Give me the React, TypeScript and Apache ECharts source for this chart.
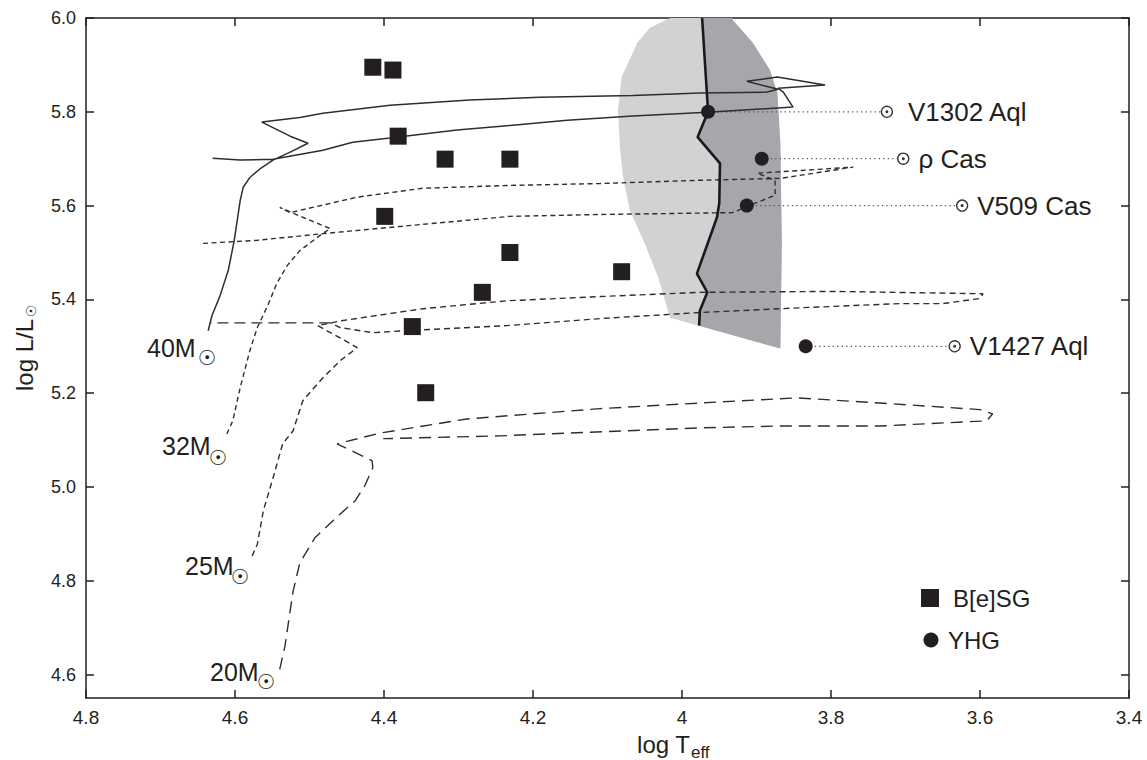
import React, { useEffect, useRef } from 'react';
import * as echarts from 'echarts';

// ---------- axes ----------
const X_MIN = 3.4;
const X_MAX = 4.8;
const X_INTERVAL = 0.2;
const Y_MIN = 4.55;
const Y_MAX = 6.0;
const Y_TICKS = [4.6, 4.8, 5.0, 5.2, 5.4, 5.6, 5.8, 6.0];

// ---------- stars ----------
const besgTeff = [4.415, 4.388, 4.381, 4.318, 4.231, 4.399, 4.231, 4.081, 4.268, 4.362, 4.344];
const besgLum = [5.895, 5.889, 5.748, 5.699, 5.699, 5.577, 5.5, 5.459, 5.415, 5.342, 5.201];

const yhgTeff = [3.965, 3.893, 3.913, 3.834];
const yhgLum = [5.8, 5.7, 5.6, 5.3];
const starNames = ['V1302 Aql', 'ρ Cas', 'V509 Cas', 'V1427 Aql'];
const starLabelTeff = [3.725, 3.703, 3.624, 3.634];

// ---------- evolutionary tracks ----------
const track40Teff = [4.636, 4.631, 4.62, 4.609, 4.601, 4.596, 4.593, 4.589, 4.58, 4.566, 4.549, 4.526, 4.502, 4.526, 4.564, 4.513, 4.482, 4.392, 4.285, 4.191, 4.066, 3.976, 3.886, 3.871, 3.913, 3.872, 3.808, 3.871, 3.864, 3.851, 3.966, 4.066, 4.154, 4.231, 4.302, 4.392, 4.442, 4.482, 4.549, 4.593, 4.63];
const track40Lum = [5.333, 5.365, 5.408, 5.462, 5.526, 5.579, 5.611, 5.639, 5.66, 5.679, 5.697, 5.714, 5.733, 5.748, 5.778, 5.788, 5.797, 5.814, 5.825, 5.831, 5.835, 5.84, 5.842, 5.848, 5.865, 5.874, 5.857, 5.85, 5.842, 5.81, 5.799, 5.791, 5.782, 5.771, 5.761, 5.744, 5.735, 5.718, 5.699, 5.697, 5.701];

const track32Teff = [4.611, 4.603, 4.593, 4.58, 4.57, 4.556, 4.544, 4.53, 4.513, 4.482, 4.472, 4.506, 4.54, 4.526, 4.436, 4.348, 4.231, 4.11, 3.976, 3.868, 3.77, 3.899, 3.875, 3.875, 3.913, 3.932, 4.02, 4.11, 4.231, 4.321, 4.436, 4.477, 4.57, 4.647];
const track32Lum = [5.113, 5.141, 5.212, 5.291, 5.34, 5.387, 5.434, 5.472, 5.504, 5.541, 5.551, 5.573, 5.596, 5.585, 5.618, 5.637, 5.643, 5.647, 5.654, 5.658, 5.682, 5.669, 5.654, 5.622, 5.598, 5.585, 5.583, 5.581, 5.577, 5.564, 5.547, 5.541, 5.526, 5.519];

const track25Teff = [4.577, 4.57, 4.562, 4.549, 4.536, 4.522, 4.509, 4.482, 4.459, 4.436, 4.459, 4.489, 4.455, 4.348, 4.235, 4.11, 3.976, 3.797, 3.596, 3.6, 3.65, 3.707, 3.842, 3.976, 4.11, 4.235, 4.374, 4.415, 4.459, 4.472];
const track25Lum = [4.853, 4.878, 4.949, 5.019, 5.092, 5.12, 5.184, 5.233, 5.269, 5.297, 5.318, 5.344, 5.355, 5.38, 5.397, 5.406, 5.415, 5.417, 5.412, 5.402, 5.391, 5.391, 5.382, 5.372, 5.359, 5.344, 5.333, 5.329, 5.34, 5.35];
const track25TailTeff = [4.472, 4.634];
const track25TailLum = [5.35, 5.35];

const track20Teff = [4.54, 4.533, 4.528, 4.522, 4.513, 4.493, 4.462, 4.439, 4.426, 4.415, 4.416, 4.463, 4.405, 4.289, 4.11, 3.976, 3.846, 3.734, 3.6, 3.583, 3.591, 3.734, 3.868, 3.976, 4.244, 4.401];
const track20Lum = [4.611, 4.66, 4.714, 4.778, 4.838, 4.891, 4.938, 4.97, 5.002, 5.041, 5.056, 5.092, 5.115, 5.145, 5.167, 5.179, 5.19, 5.179, 5.165, 5.156, 5.141, 5.13, 5.13, 5.126, 5.109, 5.103];

// ---------- instability region ----------
const edgeTeff = [3.973, 3.965, 3.979, 3.949, 3.95, 3.953, 3.98, 3.966, 3.976, 3.977];
const edgeLum = [6.0, 5.8, 5.746, 5.69, 5.605, 5.575, 5.455, 5.415, 5.376, 5.344];

const regionTeff = [4.016, 4.043, 4.06, 4.081, 4.086, 4.083, 4.079, 4.07, 4.05, 4.032, 4.016, 3.868, 3.866, 3.868, 3.872, 3.882, 3.905, 3.932, 3.932];
const regionLum = [6.0, 5.979, 5.947, 5.874, 5.803, 5.718, 5.66, 5.59, 5.519, 5.447, 5.361, 5.295, 5.519, 5.733, 5.84, 5.889, 5.947, 5.996, 6.0];

const massLabels = ['40M', '32M', '25M', '20M'];

const SANS = "'Liberation Sans', Arial, Helvetica, sans-serif";
const NARROW = "'Liberation Sans Narrow', 'Liberation Sans', Arial, sans-serif";
const SYM = "'DejaVu Sans', sans-serif";
const INK = '#231f20';

const zip = (a: number[], b: number[]) => a.map((v, i) => [v, b[i]]);

export default function App() {
  const ref = useRef<HTMLDivElement>(null);
  useEffect(() => {
    if (!ref.current) return;
    const chart = echarts.init(ref.current, null, { renderer: 'svg' });

    const lightPts = zip(regionTeff, regionLum);
    const darkPts = [...zip(edgeTeff, edgeLum), ...zip(regionTeff, regionLum).slice(11)];

    const trackStyle = (type: any, width = 1.4) => ({ color: '#2e2e2e', width, type });
    const lineSeries = (data: number[][], lineStyle: any, z = 3) => ({
      type: 'line',
      data,
      showSymbol: false,
      symbol: 'none',
      silent: true,
      lineStyle,
      z,
    });

    const connectors = yhgTeff.map((t, i) =>
      lineSeries([[t, yhgLum[i]], [starLabelTeff[i], yhgLum[i]]], { color: '#555', width: 1.3, type: [1.3, 3.2] }, 2)
    );

    const xCommon = {
      type: 'value',
      min: X_MIN,
      max: X_MAX,
      interval: X_INTERVAL,
      inverse: true,
      splitLine: { show: false },
      axisLine: { onZero: false, lineStyle: { color: INK, width: 1.5 } },
      axisTick: { inside: true, length: 8, lineStyle: { color: INK, width: 1.5 } },
    };
    const yCommon = {
      type: 'value',
      min: Y_MIN,
      max: Y_MAX,
      splitLine: { show: false },
      axisLine: { onZero: false, lineStyle: { color: INK, width: 1.5 } },
      axisTick: { inside: true, length: 8, customValues: Y_TICKS, lineStyle: { color: INK, width: 1.5 } },
    };

    const massPos = [
      { x: 147, y: 348, sx: 207, sy: 358 },
      { x: 162, y: 446, sx: 218, sy: 458 },
      { x: 185, y: 566, sx: 240, sy: 577 },
      { x: 210, y: 672, sx: 266, sy: 682 },
    ];

    const graphics: any[] = [];
    massLabels.forEach((m, i) => {
      const p = massPos[i];
      graphics.push({ type: 'text', x: p.x, y: p.y, silent: true, style: { text: m, fontSize: 25, fontFamily: SANS, fill: INK, align: 'left', verticalAlign: 'middle' } });
      graphics.push({ type: 'text', x: p.sx, y: p.sy, silent: true, style: { text: '☉', fontSize: 21, fontFamily: SYM, fill: INK, align: 'center', verticalAlign: 'middle' } });
    });
    // axis titles
    graphics.push({ type: 'text', x: 24, y: 355, rotation: Math.PI / 2, silent: true, style: { text: 'log L/L', fontSize: 24, fontFamily: SANS, fill: INK, align: 'center', verticalAlign: 'middle' } });
    graphics.push({ type: 'text', x: 31, y: 311, rotation: Math.PI / 2, silent: true, style: { text: '☉', fontSize: 14, fontFamily: SYM, fill: INK, align: 'center', verticalAlign: 'middle' } });
    graphics.push({ type: 'text', x: 690, y: 744, silent: true, style: { text: 'log T', fontSize: 24, fontFamily: NARROW, fill: INK, align: 'right', verticalAlign: 'middle' } });
    graphics.push({ type: 'text', x: 691, y: 752, silent: true, style: { text: 'eff', fontSize: 17, fontFamily: NARROW, fill: INK, align: 'left', verticalAlign: 'middle' } });
    // legend
    graphics.push({ type: 'rect', shape: { x: 921, y: 589, width: 18, height: 18 }, silent: true, style: { fill: INK } });
    graphics.push({ type: 'text', x: 953, y: 598, silent: true, style: { text: 'B[e]SG', fontSize: 24, fontFamily: SANS, fill: INK, align: 'left', verticalAlign: 'middle' } });
    graphics.push({ type: 'circle', shape: { cx: 931, cy: 640, r: 7.5 }, silent: true, style: { fill: INK } });
    graphics.push({ type: 'text', x: 948, y: 640, silent: true, style: { text: 'YHG', fontSize: 24, fontFamily: SANS, fill: INK, align: 'left', verticalAlign: 'middle' } });

    chart.setOption({
      animation: false,
      backgroundColor: '#ffffff',
      grid: { left: 86, right: 18, top: 18, bottom: 62, containLabel: false },
      xAxis: [
        {
          ...xCommon,
          position: 'bottom',
          axisLabel: {
            color: INK,
            fontSize: 19,
            fontFamily: NARROW,
            margin: 10,
            formatter: (v: number) => (Math.abs(v - 4) < 1e-6 ? '4' : v.toFixed(1)),
          },
        },
        { ...xCommon, position: 'top', axisLabel: { show: false } },
      ],
      yAxis: [
        {
          ...yCommon,
          position: 'left',
          axisLabel: {
            color: INK,
            fontSize: 18,
            fontFamily: SANS,
            margin: 10,
            customValues: Y_TICKS,
            formatter: (v: number) => v.toFixed(1),
          },
        },
        { ...yCommon, position: 'right', axisLabel: { show: false } },
      ],
      series: [
        {
          type: 'custom',
          silent: true,
          z: 1,
          data: [[4.0, 5.6]],
          renderItem: (_p: any, api: any) => ({
            type: 'group',
            children: [
              { type: 'polygon', shape: { points: lightPts.map((d) => api.coord(d)) }, style: { fill: '#d1d2d4' } },
              { type: 'polygon', shape: { points: darkPts.map((d) => api.coord(d)) }, style: { fill: '#a6a7aa' } },
            ],
          }),
        },
        lineSeries(zip(track40Teff, track40Lum), trackStyle('solid', 1.5)),
        lineSeries(zip(track32Teff, track32Lum), trackStyle([5, 3.5])),
        lineSeries(zip(track25Teff, track25Lum), trackStyle([6, 4])),
        lineSeries(zip(track25TailTeff, track25TailLum), trackStyle([11, 6])),
        lineSeries(zip(track20Teff, track20Lum), trackStyle([12, 7])),
        lineSeries(zip(edgeTeff, edgeLum), { color: '#1a1a1a', width: 2.6, type: 'solid' }, 4),
        ...connectors,
        {
          type: 'scatter',
          silent: true,
          z: 6,
          symbol: 'rect',
          symbolSize: 17,
          itemStyle: { color: INK, opacity: 1 },
          data: zip(besgTeff, besgLum),
        },
        {
          type: 'scatter',
          silent: true,
          z: 6,
          symbol: 'circle',
          symbolSize: 14,
          itemStyle: { color: INK, opacity: 1 },
          data: zip(yhgTeff, yhgLum),
        },
        {
          type: 'scatter',
          silent: true,
          z: 6,
          symbol: 'circle',
          symbolSize: 11,
          itemStyle: { color: '#ffffff', borderColor: '#333', borderWidth: 1.3, opacity: 1 },
          label: { show: true, position: 'right', distance: 9, formatter: '{b}', fontSize: 26, fontFamily: SANS, color: INK, opacity: 1 },
          data: starLabelTeff.map((t, i) => ({
            name: starNames[i],
            value: [t, yhgLum[i]],
            label: i === 0 ? { distance: 15 } : undefined,
          })),
        },
        {
          type: 'scatter',
          silent: true,
          z: 7,
          symbol: 'circle',
          symbolSize: 3,
          itemStyle: { color: '#333', opacity: 1 },
          data: zip(starLabelTeff, yhgLum),
        },
      ],
      graphic: graphics,
    });

    return () => chart.dispose();
  }, []);

  return <div ref={ref} style={{ position: 'fixed', left: 0, top: 0, width: 1147, height: 760, background: '#fff' }} />;
}
